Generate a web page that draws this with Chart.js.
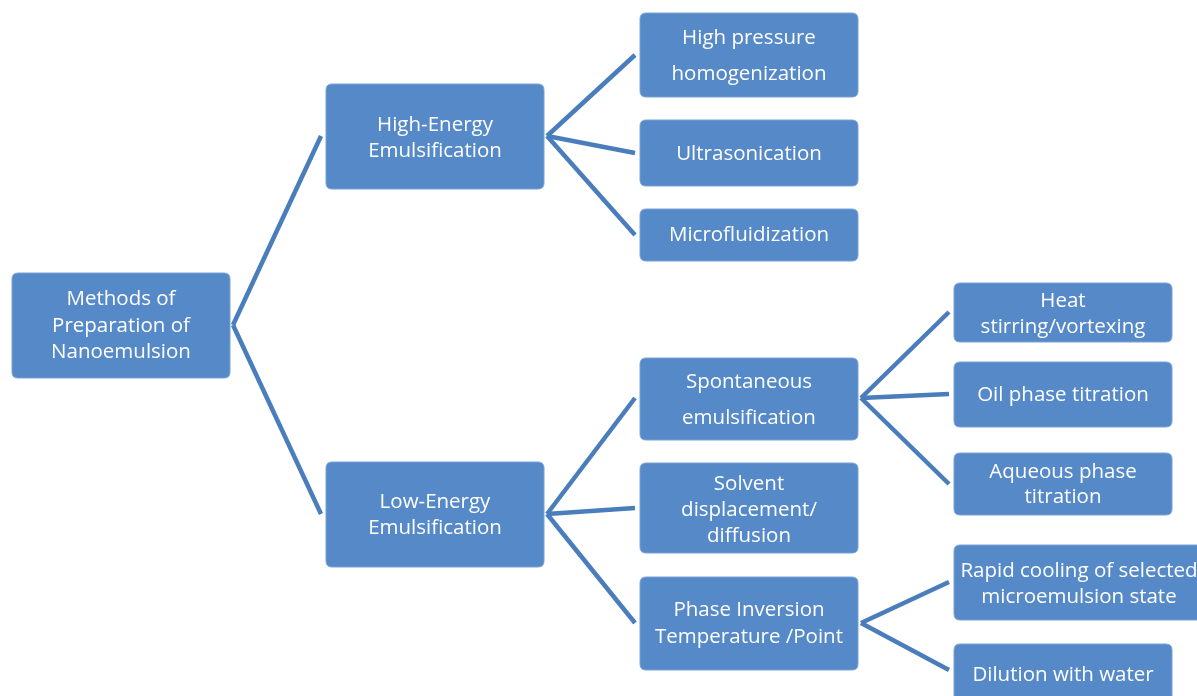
<!DOCTYPE html>
<html>
<head>
<meta charset="utf-8">
<script src="https://cdn.jsdelivr.net/npm/chart.js@4/dist/chart.umd.min.js"></script>
<style>
  html, body { margin: 0; padding: 0; background: #fff; }
  #wrap { width: 1197px; height: 696px; position: relative; }
</style>
</head>
<body>
<div id="wrap"><canvas id="tree"></canvas></div>
<script>
// tree data: node labels (lines) and the parent of each node
const nodeLabels = [
  ['Methods of', 'Preparation of', 'Nanoemulsion'],
  ['High-Energy', 'Emulsification'],
  ['Low-Energy', 'Emulsification'],
  ['High pressure', 'homogenization'],
  ['Ultrasonication'],
  ['Microfluidization'],
  ['Spontaneous', 'emulsification'],
  ['Solvent', 'displacement/', 'diffusion'],
  ['Phase Inversion', 'Temperature /Point'],
  ['Heat', 'stirring/vortexing'],
  ['Oil phase titration'],
  ['Aqueous phase', 'titration'],
  ['Rapid cooling of selected', 'microemulsion state'],
  ['Dilution with water']
];
const nodeParents = [-1, 0, 0, 1, 1, 1, 2, 2, 2, 6, 6, 6, 8, 8];

// layout in chart units (x left..right, y top..bottom)
const boxLeft   = [12, 326, 326, 640, 640, 640, 640, 640, 640, 954, 954, 954, 954, 954];
const boxWidth  = [218, 218, 218, 218, 218, 218, 218, 218, 218, 218, 218, 218, 250, 218];
const boxTop    = [273, 84, 462, 13, 120, 209, 358, 463, 577, 283, 362, 453, 545, 644];
const boxBottom = [378, 189, 567, 97, 186, 261, 440, 553, 670, 342, 427, 515, 620, 710];
const lineGap   = [26.5, 26, 26, 36, 26, 26, 36, 26, 27, 26, 26, 25, 26, 26];
const textMid   = [326, 138, 515, 56, 154, 235, 400, 510, 624, 314, 395, 485, 584, 675];
const hubY      = [325, 136, 514, 55, 153, 235, 398, 508, 623, 312, 394, 484, 582, 670];

const boxFill = '#5589c8';
const boxEdge = '#79a2d6';
const linkColor = '#4a7dbb';

// one line dataset per parent->child link
const linkSets = [];
nodeParents.forEach((p, i) => {
  if (p < 0) return;
  linkSets.push({
    data: [{ x: boxLeft[p] + boxWidth[p] + 3, y: hubY[p] }, { x: boxLeft[i] - 5, y: hubY[i] }],
    showLine: true,
    borderColor: linkColor,
    borderWidth: 4.5,
    pointRadius: 0,
    borderCapStyle: 'butt'
  });
});

function roundRect(ctx, x, y, w, h, r) {
  ctx.beginPath();
  ctx.moveTo(x + r, y);
  ctx.lineTo(x + w - r, y);
  ctx.quadraticCurveTo(x + w, y, x + w, y + r);
  ctx.lineTo(x + w, y + h - r);
  ctx.quadraticCurveTo(x + w, y + h, x + w - r, y + h);
  ctx.lineTo(x + r, y + h);
  ctx.quadraticCurveTo(x, y + h, x, y + h - r);
  ctx.lineTo(x, y + r);
  ctx.quadraticCurveTo(x, y, x + r, y);
  ctx.closePath();
}

const boxPlugin = {
  id: 'boxes',
  afterDatasetsDraw(chart) {
    const ctx = chart.ctx;
    const xs = chart.scales.x, ys = chart.scales.y;
    ctx.save();
    nodeLabels.forEach((lines, i) => {
      const x0 = xs.getPixelForValue(boxLeft[i]);
      const x1 = xs.getPixelForValue(boxLeft[i] + boxWidth[i]);
      const y0 = ys.getPixelForValue(boxTop[i]);
      const y1 = ys.getPixelForValue(boxBottom[i]);
      roundRect(ctx, x0, y0, x1 - x0, y1 - y0, 6);
      ctx.fillStyle = boxFill;
      ctx.fill();
      ctx.lineWidth = 1;
      ctx.strokeStyle = boxEdge;
      ctx.stroke();

      ctx.fillStyle = '#ffffff';
      ctx.font = '20.5px "Open Sans", "Noto Sans", sans-serif';
      ctx.textAlign = 'center';
      ctx.textBaseline = 'middle';
      const cx = (x0 + x1) / 2;
      const n = lines.length;
      lines.forEach((t, k) => {
        const ty = textMid[i] + (k - (n - 1) / 2) * lineGap[i];
        ctx.fillText(t, cx, ys.getPixelForValue(ty));
      });
    });
    ctx.restore();
  }
};

new Chart(document.getElementById('tree'), {
  type: 'scatter',
  data: { datasets: linkSets },
  options: {
    responsive: true,
    maintainAspectRatio: false,
    animation: false,
    layout: { padding: 0 },
    plugins: { legend: { display: false }, tooltip: { enabled: false } },
    scales: {
      x: { type: 'linear', min: 0, max: 1197, display: false },
      y: { type: 'linear', min: 0, max: 696, reverse: true, display: false }
    }
  },
  plugins: [boxPlugin]
});
</script>
</body>
</html>
